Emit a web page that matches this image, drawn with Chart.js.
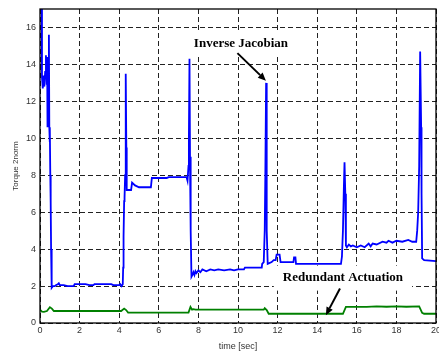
<!DOCTYPE html>
<html>
<head>
<meta charset="utf-8">
<script src="https://cdn.jsdelivr.net/npm/chart.js@4/dist/chart.umd.min.js"></script>
<style>
  html, body { margin: 0; padding: 0; background: #fff; }
  #wrap { width: 439px; height: 352px; }
</style>
</head>
<body>
<div id="wrap"><canvas id="c" width="439" height="352"></canvas></div>
<script>
// Torque 2-norm over time for the two control schemes
const jacobianTime = [
  0.08, 0.1, 0.14, 0.18, 0.22, 0.26, 0.3, 0.34, 0.36, 0.38, 0.42, 0.45, 0.47, 0.49, 0.5, 0.52, 0.53, 0.55, 0.56, 0.58,
  0.6, 0.66, 0.75, 0.8, 0.9, 0.95, 1.0, 1.2, 1.4, 1.7, 1.75, 2.3, 2.5, 2.7, 2.75, 3.6, 3.7, 4.0, 4.05, 4.12,
  4.18, 4.2, 4.22, 4.25, 4.27, 4.3, 4.32, 4.34, 4.36, 4.38, 4.6, 4.65, 4.8, 5.0, 5.6, 5.65, 6.4, 6.5, 7.4, 7.45,
  7.5, 7.52, 7.55, 7.58, 7.6, 7.62, 7.65, 7.7, 7.75, 7.8, 7.85, 7.9, 8.0, 8.1, 8.2, 8.4, 8.6, 8.8, 9.0, 9.3,
  9.6, 9.8, 10.0, 10.3, 10.35, 11.0, 11.2, 11.22, 11.3, 11.35, 11.38, 11.42, 11.45, 11.5, 11.7, 11.8, 11.9, 11.95, 12.1, 12.15,
  12.8, 12.83, 12.9, 12.93, 15.2, 15.25, 15.3, 15.35, 15.38, 15.42, 15.45, 15.5, 15.6, 15.7, 15.8, 16.0, 16.2, 16.4, 16.6, 16.7,
  16.8, 17.0, 17.3, 17.5, 17.6, 17.8, 18.0, 18.3, 18.6, 18.8, 19.0, 19.05, 19.1, 19.15, 19.2, 19.25, 19.27, 19.3, 19.4, 20
];
const jacobianTorque = [
  18, 13.3, 12.7, 13.4, 12.8, 13.6, 14.5, 12.9, 14.4, 10.6, 11.8, 15.6, 10.6, 9.8, 10.6, 8.0, 6.6, 6.5, 4.0, 3.8,
  1.9, 2.0, 2.0, 2.05, 2.1, 2.15, 2.05, 2.05, 2.0, 2.0, 2.1, 2.1, 2.05, 2.05, 2.1, 2.1, 2.05, 2.05, 2.1, 2.0,
  2.1, 3.0, 4.7, 6.6, 6.8, 8.0, 10.0, 13.5, 9.5, 7.2, 7.2, 7.6, 7.45, 7.35, 7.35, 7.85, 7.85, 7.9, 7.9, 7.7,
  8.5, 10.0, 14.3, 8.2, 9.0, 5.0, 2.5, 2.6, 2.75, 2.6, 2.8, 2.7, 2.85, 2.75, 2.9, 2.8, 2.9, 2.85, 2.9, 2.85,
  2.9, 2.85, 2.9, 2.9, 3.0, 3.0, 3.0, 3.2, 3.3, 5.0, 8.0, 13.0, 5.0, 3.2, 3.3, 3.4, 3.4, 3.7, 3.7, 3.3,
  3.3, 3.55, 3.55, 3.2, 3.2, 3.6, 5.0, 7.5, 8.7, 7.0, 4.2, 4.1, 4.25, 4.15, 4.2, 4.1, 4.2, 4.1, 4.3, 4.15,
  4.3, 4.25, 4.4, 4.35, 4.45, 4.35, 4.45, 4.4, 4.5, 4.4, 4.4, 5.0, 6.0, 8.5, 14.7, 10.6, 7.0, 3.5, 3.4, 3.35
];

const actuationTime = [
  0, 0.1, 0.2, 0.35, 0.5, 0.6, 0.7, 4.1, 4.25, 4.35, 4.45, 7.5, 7.6, 7.68, 7.75, 7.85,
  11.3, 11.35, 11.45, 11.55, 15.3, 15.45, 16.5, 17, 17.5, 18, 18.5, 19.15, 19.3, 19.4, 20
];
const actuationTorque = [
  0.72, 0.62, 0.6, 0.65, 0.85, 0.78, 0.65, 0.65, 0.78, 0.7, 0.56, 0.56, 0.87, 0.72, 0.75, 0.72,
  0.72, 0.8, 0.7, 0.5, 0.5, 0.87, 0.87, 0.9, 0.88, 0.9, 0.88, 0.9, 0.55, 0.5, 0.5
];

const xTicks = [0, 2, 4, 6, 8, 10, 12, 14, 16, 18, 20];
const yTicks = [0, 2, 4, 6, 8, 10, 12, 14, 16];

const toPoints = (xs, ys) => xs.map((x, i) => ({ x, y: ys[i] }));

// Callout texts with their arrows, placed in data coordinates
const callouts = [
  { text: 'Inverse Jacobian', at: [10.15, 15.1], from: [9.97, 14.61], to: [11.41, 13.12] },
  { text: 'Redundant Actuation', at: [15.3, 2.43], from: [15.15, 1.87], to: [14.44, 0.42] }
];
const calloutFont = 'bold 13px "Liberation Serif", "Times New Roman", serif';

const calloutPlugin = {
  id: 'callouts',
  beforeDatasetsDraw(chart) {
    const { ctx, scales: { x, y } } = chart;
    ctx.save();
    ctx.font = calloutFont;
    ctx.fillStyle = '#fff';
    callouts.forEach(c => {
      const cx = x.getPixelForValue(c.at[0]);
      const cy = y.getPixelForValue(c.at[1]);
      const w = ctx.measureText(c.text).width;
      ctx.fillRect(cx - w / 2 - 9, cy - 12.5, w + 18, 25);
    });
    ctx.restore();
  },
  afterDatasetsDraw(chart) {
    const { ctx, scales: { x, y } } = chart;
    ctx.save();
    ctx.font = calloutFont;
    ctx.fillStyle = '#000';
    ctx.strokeStyle = '#000';
    ctx.textAlign = 'center';
    ctx.textBaseline = 'middle';
    callouts.forEach(c => {
      ctx.fillText(c.text, x.getPixelForValue(c.at[0]), y.getPixelForValue(c.at[1]));
      const x1 = x.getPixelForValue(c.from[0]), y1 = y.getPixelForValue(c.from[1]);
      const x2 = x.getPixelForValue(c.to[0]), y2 = y.getPixelForValue(c.to[1]);
      const ang = Math.atan2(y2 - y1, x2 - x1);
      const head = 8, half = 3.5;
      const bx = x2 - head * Math.cos(ang), by = y2 - head * Math.sin(ang);
      ctx.lineWidth = 2;
      ctx.beginPath();
      ctx.moveTo(x1, y1);
      ctx.lineTo(bx, by);
      ctx.stroke();
      ctx.beginPath();
      ctx.moveTo(x2, y2);
      ctx.lineTo(bx + half * Math.sin(ang), by - half * Math.cos(ang));
      ctx.lineTo(bx - half * Math.sin(ang), by + half * Math.cos(ang));
      ctx.closePath();
      ctx.fill();
    });
    // axes frame
    const a = chart.chartArea;
    ctx.lineWidth = 1.3;
    ctx.strokeRect(a.left, a.top, a.right - a.left, a.bottom - a.top);
    ctx.restore();
  }
};

const tickFont = { family: '"Liberation Sans", Arial, sans-serif', size: 9 };
const gridStyle = { color: '#222', lineWidth: 1, drawTicks: false };

new Chart(document.getElementById('c'), {
  type: 'line',
  data: {
    datasets: [
      {
        label: 'Inverse Jacobian',
        data: toPoints(jacobianTime, jacobianTorque),
        borderColor: '#0000ff',
        borderWidth: 1.8,
        pointRadius: 0,
        tension: 0,
        fill: false
      },
      {
        label: 'Redundant Actuation',
        data: toPoints(actuationTime, actuationTorque),
        borderColor: '#008000',
        borderWidth: 1.8,
        pointRadius: 0,
        tension: 0,
        fill: false
      }
    ]
  },
  options: {
    responsive: false,
    animation: false,
    devicePixelRatio: 1,
    layout: { padding: { top: 9, right: 3, left: 0, bottom: 0 } },
    plugins: { legend: { display: false }, tooltip: { enabled: false } },
    scales: {
      x: {
        type: 'linear',
        min: 0,
        max: 20,
        afterBuildTicks: s => { s.ticks = xTicks.map(v => ({ value: v })); },
        ticks: { font: tickFont, color: '#333', padding: 2, maxRotation: 0, autoSkip: false },
        grid: gridStyle,
        border: { display: false, dash: [5, 3] },
        title: { display: true, text: 'time [sec]', font: tickFont, color: '#333', padding: { top: 4, bottom: 0 } },
        afterFit: s => { s.height = 29; s.paddingLeft = 0; s.paddingRight = 0; }
      },
      y: {
        min: 0,
        max: 17,
        afterBuildTicks: s => { s.ticks = yTicks.map(v => ({ value: v })); },
        ticks: { font: tickFont, color: '#333', padding: 4 },
        grid: gridStyle,
        border: { display: false, dash: [5, 3] },
        title: { display: true, text: 'Torque 2norm', font: { family: tickFont.family, size: 8 }, color: '#333', padding: { top: 11, bottom: 0 } },
        afterFit: s => { s.width = 40; s.paddingTop = 0; s.paddingBottom = 0; }
      }
    }
  },
  plugins: [calloutPlugin]
});
</script>
</body>
</html>
